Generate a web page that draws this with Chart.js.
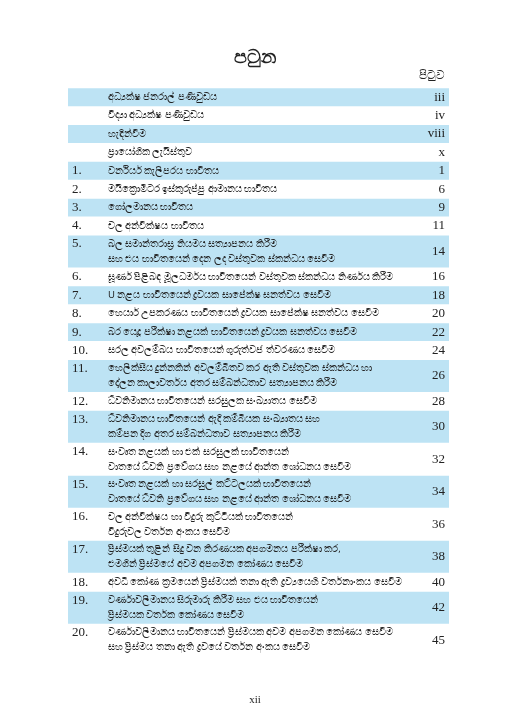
<!DOCTYPE html>
<html lang="si">
<head>
<meta charset="UTF-8">
<title>පටුන</title>
<script src="https://cdn.jsdelivr.net/npm/chart.js"></script>
<style>
    body { margin: 0; background: #fff; }
    #wrap { width: 509px; height: 720px; position: relative; }
</style>
</head>
<body>
<div id="wrap"><canvas id="toc"></canvas></div>
<script>
// Table of contents rows
const numbers = ["", "", "", "", "1.", "2.", "3.", "4.", "5.", "6.", "7.", "8.", "9.", "10.",
    "11.", "12.", "13.", "14.", "15.", "16.", "17.", "18.", "19.", "20."];
const titles = [
    ["අධ්‍යක්ෂ ජනරාල් පණිවුඩය"],
    ["විද්‍යා අධ්‍යක්ෂ පණිවුඩය"],
    ["හැඳින්වීම"],
    ["ප්‍රායෝගික ලැයිස්තුව"],
    ["වර්නියර් කැලිපරය භාවිතය"],
    ["මයික්‍රොමීටර ඉස්කුරුප්පු ආමානය භාවිතය"],
    ["ගෝලමානය භාවිතය"],
    ["චල අන්වීක්ෂය භාවිතය"],
    ["බල සමාන්තරාස්‍ර නියමය සත්‍යාපනය කිරීම", "සහ එය භාවිතයෙන් දෙන ලද වස්තුවක ස්කන්ධය සෙවීම"],
    ["ඝූර්ණ පිළිබඳ මූලධර්මය භාවිතයෙන් වස්තුවක ස්කන්ධය නිර්ණය කිරීම"],
    ["U නළය භාවිතයෙන් ද්‍රවයක සාපේක්ෂ ඝනත්වය සෙවීම"],
    ["හෙයාර් උපකරණය භාවිතයෙන් ද්‍රවයක සාපේක්ෂ ඝනත්වය සෙවීම"],
    ["බර යෙදූ පරීක්ෂා නළයක් භාවිතයෙන් ද්‍රවයක ඝනත්වය සෙවීම"],
    ["සරල අවලම්බය භාවිතයෙන් ගුරුත්වජ ත්වරණය සෙවීම"],
    ["හෙලික්සීය දුන්නකින් අවලම්බිතව කර ඇති වස්තුවක ස්කන්ධය හා", "දෝලන කාලාවර්තය අතර සම්බන්ධතාව සත්‍යාපනය කිරීම"],
    ["ධ්වනිමානය භාවිතයෙන් සරසුලක සංඛ්‍යාතය සෙවීම"],
    ["ධ්වනිමානය භාවිතයෙන් ඇදි කම්බියක සංඛ්‍යාතය සහ", "කම්පන දිග අතර සම්බන්ධතාව සත්‍යාපනය කිරීම"],
    ["සංවෘත නළයක් හා එක් සරසුලක් භාවිතයෙන්", "වාතයේ ධ්වනි ප්‍රවේගය සහ නළයේ ආන්ත ශෝධනය සෙවීම"],
    ["සංවෘත නළයක් හා සරසුල් කට්ටලයක් භාවිතයෙන්", "වාතයේ ධ්වනි ප්‍රවේගය සහ නළයේ ආන්ත ශෝධනය සෙවීම"],
    ["චල අන්වීක්ෂය හා විදුරු කුට්ටියක් භාවිතයෙන්", "විදුරුවල වර්තන අංකය සෙවීම"],
    ["ප්‍රිස්මයක් තුළින් සිදු වන කිරණයක අපගමනය පරීක්ෂා කර,", "එමගින් ප්‍රිස්මයේ අවම අපගමන කෝණය සෙවීම"],
    ["අවධි කෝණ ක්‍රමයෙන් ප්‍රිස්මයක් තනා ඇති ද්‍රව්‍යයෙහි වර්තනාංකය සෙවීම"],
    ["වර්ණාවලිමානය සිරුමාරු කිරීම සහ එය භාවිතයෙන්", "ප්‍රිස්මයක වර්තක කෝණය සෙවීම"],
    ["වර්ණාවලිමානය භාවිතයෙන් ප්‍රිස්මයක අවම අපගමන කෝණය සෙවීම", "සහ ප්‍රිස්මය තනා ඇති ද්‍රවයේ වර්තන අංකය සෙවීම"]
];
const pages = ["iii", "iv", "viii", "x", "1", "6", "9", "11", "14", "16", "18", "20", "22", "24",
    "26", "28", "30", "32", "34", "36", "38", "40", "42", "45"];

const SINGLE = 18.4, DOUBLE = 32.5;
const BLUE = '#bde3f4';
const LEFT = 68, RIGHT = 449, TOP = 88;

// row layout in y units (1 unit = 1px at this canvas size)
const rowH = titles.map(t => t.length > 1 ? DOUBLE : SINGLE);
const rowTop = [];
let acc = 0;
rowH.forEach(h => { rowTop.push(acc); acc += h; });
const total = acc;

// shaded rows as floating bars spanning [top, bottom] of the row
const bands = rowTop.map((t, i) => i % 2 === 0 ? { x: 0.5, y: [t + 0.6, t + rowH[i] - 0.6] } : null)
    .filter(p => p);

const textPlugin = {
    id: 'tocText',
    afterDatasetsDraw(chart) {
        const ctx = chart.ctx, y = chart.scales.y, x = chart.scales.x;
        const left = x.getPixelForValue(0), right = x.getPixelForValue(1);
        ctx.save();
        ctx.fillStyle = '#222';
        ctx.textBaseline = 'middle';
        ctx.textAlign = 'center';
        ctx.font = 'bold 19px "Noto Sans", serif';
        ctx.fillText('පටුන', 255, 58);
        ctx.textAlign = 'right';
        ctx.font = '12px "Noto Sans", serif';
        ctx.fillText('පිටුව', right - 4, 76);
        rowTop.forEach((t, i) => {
            const py = y.getPixelForValue(t + rowH[i] / 2);
            const lines = titles[i];
            ctx.textAlign = 'left';
            ctx.font = '13px "Liberation Serif", serif';
            ctx.fillText(numbers[i], left + 4, lines.length > 1 ? py - 7.5 : py);
            ctx.font = '9.5px "Noto Sans", serif';
            lines.forEach((s, k) => {
                ctx.fillText(s, left + 40, py + (k - (lines.length - 1) / 2) * 15);
            });
            ctx.textAlign = 'right';
            ctx.font = '13px "Liberation Serif", serif';
            ctx.fillText(pages[i], right - 4, py);
        });
        ctx.textAlign = 'center';
        ctx.font = '11px "Liberation Serif", serif';
        ctx.fillText('xii', 255, 700);
        ctx.restore();
    }
};

new Chart(document.getElementById('toc'), {
    type: 'bar',
    data: {
        datasets: [{
            data: bands,
            backgroundColor: BLUE,
            barThickness: RIGHT - LEFT,
            borderSkipped: false
        }]
    },
    options: {
        responsive: true,
        maintainAspectRatio: false,
        animation: false,
        layout: { padding: { left: LEFT, right: 509 - RIGHT, top: TOP, bottom: 720 - TOP - total } },
        plugins: { legend: { display: false }, tooltip: { enabled: false } },
        scales: {
            x: { type: 'linear', min: 0, max: 1, display: false, offset: false },
            y: { type: 'linear', min: 0, max: total, reverse: true, display: false }
        }
    },
    plugins: [textPlugin]
});
</script>
</body>
</html>
